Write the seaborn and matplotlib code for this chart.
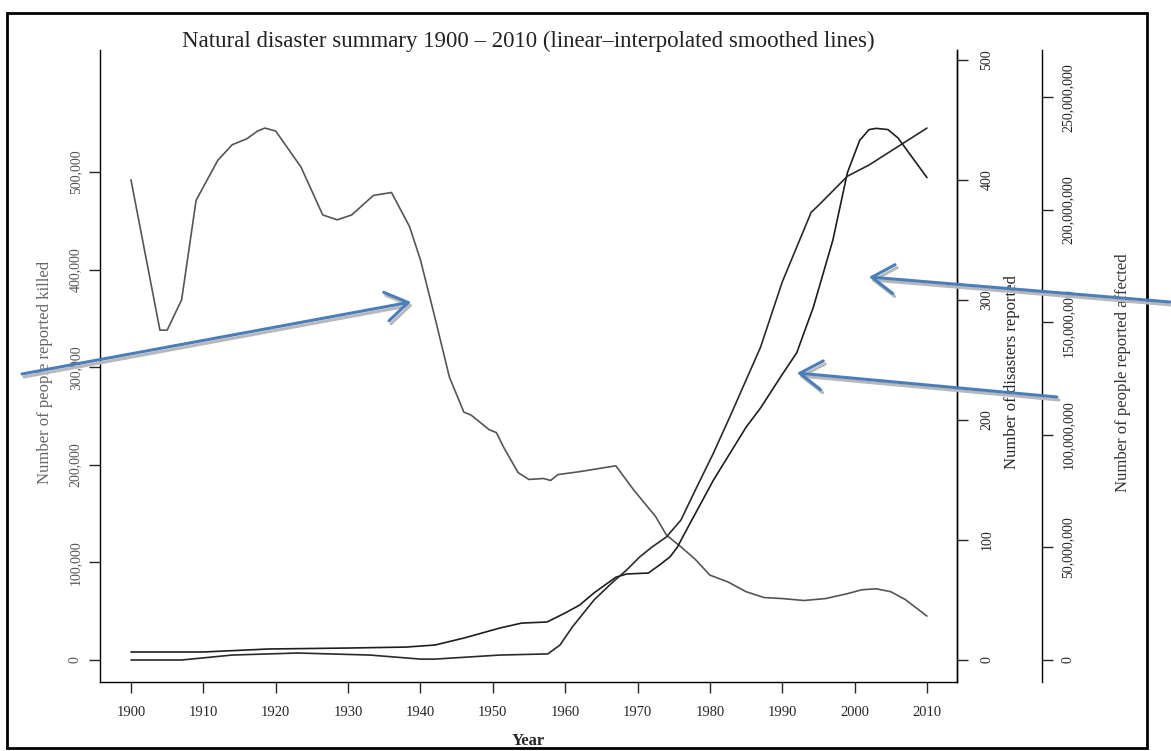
import numpy as np
import pandas as pd
import matplotlib
matplotlib.use("Agg")
import matplotlib.pyplot as plt
import seaborn as sns
from matplotlib.ticker import FuncFormatter
from matplotlib.patches import Rectangle, FancyArrowPatch

# --- data ---
killed_years = [1900, 1904, 1905, 1907, 1909, 1912, 1914, 1916, 1917.5, 1918.5, 1920,
                1923.5, 1926.5, 1928.5, 1930.5, 1933.5, 1936, 1938.5, 1940, 1942, 1944,
                1946, 1947, 1949.5, 1950.5, 1951.5, 1953.5, 1955, 1957, 1958, 1959, 1962,
                1967, 1969.5, 1972.5, 1974, 1976, 1978, 1980, 1982.5, 1985, 1987.5, 1990,
                1993, 1996, 1999, 2001, 2003, 2005, 2007, 2010]
killed_k = [492, 338, 338, 369, 471, 512, 528, 534, 542, 545, 542,
            505, 456, 451, 456, 476, 479, 444, 410, 351, 290,
            254, 251, 236, 233, 218, 192, 185, 186, 184, 190, 193,
            199, 174, 147, 128, 116, 103, 87, 80, 70, 64, 63,
            61, 63, 68, 72, 73, 70, 62, 45]

disaster_years = [1900, 1910, 1919, 1930, 1938, 1942, 1946, 1951, 1954, 1957.5, 1960,
                  1962, 1964, 1967, 1968.5, 1971.5, 1973, 1974.5, 1975.5, 1977, 1980.5,
                  1985, 1987, 1990, 1992, 1994.3, 1997, 1999, 2000.7, 2002, 2003, 2004.6,
                  2006, 2010]
disasters = [6.7, 6.7, 9.2, 10, 10.8, 12.5, 18.3, 26.7, 30.8, 31.7, 39.2,
             45.8, 56, 69, 71.7, 72.5, 79, 86, 94, 111, 150,
             194, 210, 238, 256, 294, 350, 406, 433, 442, 443, 442,
             435, 402]

affected_years = [1900, 1907, 1914, 1923, 1933, 1940, 1942, 1951, 1957.6, 1959.3, 1961,
                  1964, 1966.6, 1968.5, 1970.3, 1972, 1974, 1976, 1978, 1980.5, 1983,
                  1987, 1990, 1994, 1995, 1999, 2002, 2010]
affected_m = [0, 0, 2.2, 3.1, 2.2, 0.4, 0.4, 2.2, 2.7, 6.7, 14.7,
              26.7, 34.7, 40, 45.8, 50.2, 54.7, 62.2, 75.6, 92, 109.8,
              139, 168, 199, 202, 215, 220, 236.4]

year_ticks = list(range(1900, 2011, 10))
killed_ticks = [0, 100000, 200000, 300000, 400000, 500000]
disaster_ticks = [0, 100, 200, 300, 400, 500]
affected_ticks = [0, 50e6, 100e6, 150e6, 200e6, 250e6]

title = "Natural disaster summary 1900 \u2013 2010 (linear\u2013interpolated smoothed lines)"

sns.set_style("ticks")
plt.rcParams['font.family'] = ['Liberation Serif', 'DejaVu Serif']

W, H = 1171, 751
fig = plt.figure(figsize=(W / 100, H / 100), dpi=100)
ax = fig.add_axes([100 / W, 1 - 682 / H, 857 / W, 632 / H])
ax2 = ax.twinx()
ax3 = ax.twinx()

sns.lineplot(x=killed_years, y=np.array(killed_k) * 1000, ax=ax, color='#555555', lw=1.2)
sns.lineplot(x=disaster_years, y=disasters, ax=ax2, color='#1e1e1e', lw=1.2)
sns.lineplot(x=affected_years, y=np.array(affected_m) * 1e6, ax=ax3, color='#2a2a2a', lw=1.2)

ax.set_xlim(1895.72, 2014.15)
ax.set_ylim(-22500, 625000)
ax2.set_ylim(-18.3, 508.3)
ax3.set_ylim(-9.78e6, 271.1e6)

ax.set_xticks(year_ticks)
ax.set_yticks(killed_ticks)
ax2.set_yticks(disaster_ticks)
ax3.set_yticks(affected_ticks)
comma = FuncFormatter(lambda v, p: f"{int(round(v)):,}")
ax.yaxis.set_major_formatter(comma)
ax3.yaxis.set_major_formatter(comma)

ax.spines['top'].set_visible(False)
for a in (ax2, ax3):
    for s in ('top', 'left', 'bottom'):
        a.spines[s].set_visible(False)
ax3.spines['right'].set_position(('axes', 942 / 857))
for a in (ax, ax2, ax3):
    for s in a.spines.values():
        s.set_linewidth(1.0)
        s.set_color('black')

ax.tick_params(axis='x', direction='out', length=8, width=1, labelsize=10.5, pad=9)
ax.tick_params(axis='y', direction='out', length=8, width=1, labelsize=10, pad=5,
               labelrotation=90, labelcolor='#555555')
ax2.tick_params(axis='y', direction='out', length=8, width=1, labelsize=10, pad=9,
                labelrotation=90)
ax3.tick_params(axis='y', direction='out', length=8, width=1, labelsize=10, pad=6,
                labelrotation=90)
for a in (ax, ax2, ax3):
    for t in a.yaxis.get_major_ticks():
        t.label1.set_va('center')
        t.label2.set_va('center')

ax.set_ylabel("Number of people reported killed", fontsize=12, color='#666666')
ax.yaxis.set_label_coords(-0.0548, 0.49)
ax2.set_ylabel("Number of disasters reported", fontsize=12)
ax2.yaxis.set_label_coords(1.0548, 0.49)
ax3.set_ylabel("Number of people reported affected", fontsize=12, color='#333333')
ax3.yaxis.set_label_coords(1.1844, 0.49)
ax.set_xlabel("Year", fontsize=12, fontweight='bold')
ax.xaxis.set_label_coords(0.5, -0.081)
ax.set_title(title, fontsize=16.5, y=1.0, pad=2, color='#222222')

# document frame
fig.add_artist(Rectangle((7 / W, 1 - 748 / H), 1140 / W, 735 / H,
                         transform=fig.transFigure, fill=False, lw=2, ec='black'))

# blue callout arrows (figure pixel positions)
arrows = [((22, 374), (411, 302)), ((1170, 302), (869, 277)), ((1057, 397), (797, 373))]
for tail, head in arrows:
    for dx, dy, col in [(2, 3, '#b8b8b8'), (0, 0, '#4a7ebb')]:
        fig.add_artist(FancyArrowPatch(
            ((tail[0] + dx) / W, 1 - (tail[1] + dy) / H),
            ((head[0] + dx) / W, 1 - (head[1] + dy) / H),
            transform=fig.transFigure, arrowstyle='->,head_length=1.0,head_width=0.65',
            mutation_scale=16, lw=2.2, color=col, shrinkA=0, shrinkB=0))

fig.savefig('out.png', dpi=100)
